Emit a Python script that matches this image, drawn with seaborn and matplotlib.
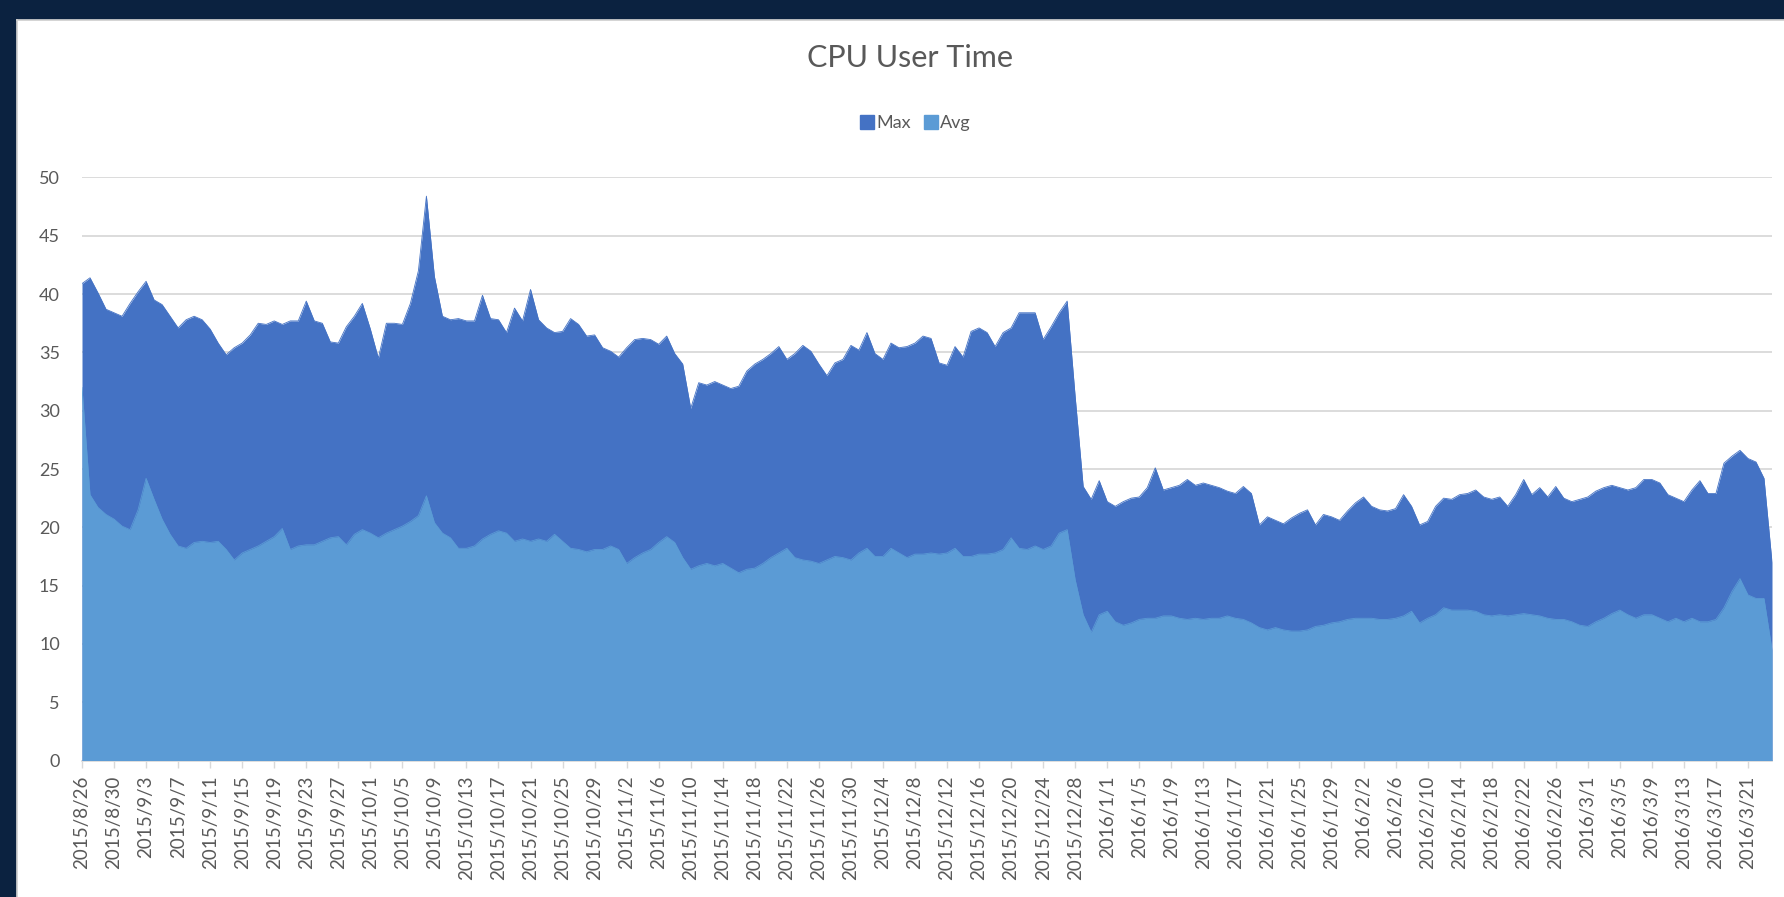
import matplotlib
matplotlib.use("Agg")
import matplotlib.pyplot as plt
from matplotlib.lines import Line2D
import seaborn as sns
import pandas as pd

# daily values, 2015/8/26 .. 2016/3/24
max_vals = [
    40.9, 41.4, 40.1, 38.7, 38.4, 38.1, 39.2, 40.2, 41.1, 39.5,
    39.1, 38.1, 37.1, 37.8, 38.1, 37.8, 37.0, 35.8, 34.8, 35.4,
    35.8, 36.5, 37.5, 37.4, 37.7, 37.4, 37.7, 37.7, 39.4, 37.7,
    37.5, 35.9, 35.8, 37.2, 38.1, 39.2, 37.0, 34.5, 37.5, 37.5,
    37.4, 39.2, 42.0,
    48.4, 41.5, 38.1, 37.8, 37.9, 37.7, 37.7, 39.9, 37.9, 37.8,
    36.7, 38.8, 37.7, 40.4, 37.8, 37.1, 36.7, 36.8, 37.9, 37.4,
    36.4, 36.5, 35.4, 35.1, 34.6, 35.4, 36.1, 36.2, 36.1, 35.7,
    36.4, 34.9, 34.0, 30.2, 32.4, 32.2, 32.5, 32.2, 31.9, 32.1,
    33.4, 34.0,
    34.4, 34.9, 35.5, 34.4, 34.9, 35.6, 35.1, 34.0, 33.0, 34.1,
    34.4, 35.6, 35.2, 36.7, 34.9, 34.4, 35.8, 35.4, 35.5, 35.8,
    36.4, 36.2, 34.1, 33.9, 35.5, 34.6, 36.8, 37.1, 36.7, 35.5,
    36.7, 37.1, 38.4, 38.4, 38.4, 36.1, 37.2, 38.4, 39.4, 31.2,
    23.5, 22.4, 24.0,
    22.2, 21.8, 22.2, 22.5, 22.6, 23.4, 25.1, 23.2, 23.4, 23.6,
    24.1, 23.6, 23.8, 23.6, 23.4, 23.1, 22.9, 23.5, 22.9, 20.2,
    20.9, 20.6, 20.3, 20.8, 21.2, 21.5, 20.2, 21.1, 20.9, 20.6,
    21.4, 22.1, 22.6, 21.8, 21.5, 21.4, 21.6, 22.8, 21.8, 20.2,
    20.5, 21.8,
    22.5, 22.4, 22.8, 22.9, 23.2, 22.6, 22.4, 22.6, 21.8, 22.8,
    24.1, 22.8, 23.4, 22.6, 23.5, 22.5, 22.2, 22.4, 22.6, 23.1,
    23.4, 23.6, 23.4, 23.2, 23.4, 24.1, 24.1, 23.8, 22.8, 22.5,
    22.2, 23.2, 24.0, 22.9, 22.9, 25.5, 26.1, 26.6, 25.9, 25.6,
    24.2, 17.0,
]

avg_vals = [
    32.0, 22.8, 21.7, 21.1, 20.7, 20.1, 19.8, 21.5, 24.2, 22.4,
    20.7, 19.4, 18.4, 18.2, 18.7, 18.8, 18.7, 18.8, 18.1, 17.2,
    17.8, 18.1, 18.4, 18.8, 19.2, 19.9, 18.1, 18.4, 18.5, 18.5,
    18.8, 19.1, 19.2, 18.5, 19.4, 19.8, 19.5, 19.1, 19.5, 19.8,
    20.1, 20.5, 21.0,
    22.7, 20.4, 19.5, 19.1, 18.2, 18.2, 18.4, 19.0, 19.4, 19.7,
    19.5, 18.8, 19.0, 18.8, 19.0, 18.8, 19.4, 18.8, 18.2, 18.1,
    17.9, 18.1, 18.1, 18.4, 18.1, 16.9, 17.4, 17.8, 18.1, 18.7,
    19.2, 18.7, 17.4, 16.4, 16.7, 16.9, 16.7, 16.9, 16.5, 16.1,
    16.4, 16.5,
    16.9, 17.4, 17.8, 18.2, 17.4, 17.2, 17.1, 16.9, 17.2, 17.5,
    17.4, 17.2, 17.8, 18.2, 17.5, 17.5, 18.2, 17.8, 17.4, 17.7,
    17.7, 17.8, 17.7, 17.8, 18.2, 17.5, 17.5, 17.7, 17.7, 17.8,
    18.1, 19.1, 18.2, 18.1, 18.4, 18.1, 18.4, 19.5, 19.8, 15.5,
    12.5, 11.0, 12.5,
    12.8, 11.9, 11.6, 11.8, 12.1, 12.2, 12.2, 12.4, 12.4, 12.2,
    12.1, 12.2, 12.1, 12.2, 12.2, 12.4, 12.2, 12.1, 11.8, 11.4,
    11.2, 11.4, 11.2, 11.1, 11.1, 11.2, 11.5, 11.6, 11.8, 11.9,
    12.1, 12.2, 12.2, 12.2, 12.1, 12.1, 12.2, 12.4, 12.8, 11.8,
    12.2, 12.5,
    13.1, 12.9, 12.9, 12.9, 12.8, 12.5, 12.4, 12.5, 12.4, 12.5,
    12.6, 12.5, 12.4, 12.2, 12.1, 12.1, 11.9, 11.6, 11.5, 11.9,
    12.2, 12.6, 12.9, 12.5, 12.2, 12.5, 12.5, 12.2, 11.9, 12.2,
    11.9, 12.2, 11.9, 11.9, 12.1, 13.1, 14.5, 15.6, 14.2, 13.9,
    13.9, 9.5,
]

start_date = "2015-08-26"
series_names = ["Max", "Avg"]
series_colors = ["#4472C4", "#5B9BD5"]
text_color = "#595959"
grid_color = "#d9d9d9"

dates = pd.date_range(start_date, periods=len(max_vals), freq="D")
date_labels = [f"{d.year}/{d.month}/{d.day}" for d in dates]
df = pd.DataFrame({"day": range(len(dates)), "Max": max_vals, "Avg": avg_vals})

sns.set_theme(style="white")
plt.rcParams["font.family"] = ["Lato", "DejaVu Sans"]

W, H = 1784, 897
fig = plt.figure(figsize=(W / 100, H / 100), dpi=100)
fig.patch.set_facecolor("#0b2240")

# white chart card on the dark slide, drawn behind the plot axes
card = fig.add_axes([17 / W, 0, 1 - 17 / W, 1 - 20 / H], zorder=-5)
card.set_facecolor("white")
card.set_xticks([])
card.set_yticks([])
for side, s in card.spines.items():
    s.set_color("#cfcfcf")
    s.set_visible(side in ("left", "top"))

ax = fig.add_axes([82 / W, 1 - 760.5 / H, 1690 / W, 583 / H])
ax.set_facecolor("none")

for name, col in zip(series_names, series_colors):
    sns.lineplot(data=df, x="day", y=name, color=col, lw=0.6, ax=ax, zorder=3)
    ax.fill_between(df["day"], df[name], color=col, lw=0, zorder=3)

ax.set_xlim(0, len(df) - 1)
ax.set_ylim(0, 50)
ax.set_yticks(range(0, 51, 5))
ax.yaxis.grid(True, color=grid_color, lw=1.3)
ax.set_axisbelow(True)

ax.set_xticks(df["day"][::4])
ax.set_xticklabels(date_labels[::4], rotation=90, fontsize=13.5, color=text_color)
ax.tick_params(axis="x", length=5, width=1, color=grid_color, pad=6, direction="out", bottom=True)
ax.tick_params(axis="y", length=0, pad=16, labelsize=13, labelcolor=text_color)
for side in ["top", "right", "left"]:
    ax.spines[side].set_visible(False)
ax.spines["bottom"].set_color(grid_color)
ax.set_xlabel("")
ax.set_ylabel("")

fig.text(910 / W, 1 - 58 / H, "CPU User Time", ha="center", va="center", fontsize=22, color=text_color)

handles = [Line2D([], [], marker="s", ls="", color=c, markersize=10) for c in series_colors]
fig.legend(handles, series_names, loc="center", bbox_to_anchor=(916 / W, 1 - 123 / H), ncol=2,
           frameon=False, fontsize=13, handlelength=0.6, handletextpad=0.2, columnspacing=0.8,
           labelcolor=text_color)

fig.savefig("out.png", dpi=100, facecolor=fig.get_facecolor())
